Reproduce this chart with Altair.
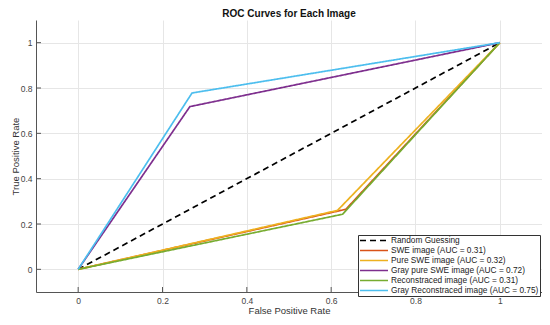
import altair as alt
import pandas as pd

series = [
    "Random Guessing",
    "SWE image (AUC = 0.31)",
    "Pure SWE image (AUC = 0.32)",
    "Gray pure SWE image (AUC = 0.72)",
    "Reconstraced image (AUC = 0.31)",
    "Gray Reconstraced image (AUC = 0.75)",
]
colors = ["#000000", "#D95319", "#EDB120", "#7E2F8E", "#77AC30", "#4DBEEE"]
dashes = [[6, 4], [1, 0], [1, 0], [1, 0], [1, 0], [1, 0]]

fpr = [
    [0, 1],
    [0, 0.635, 1],
    [0, 0.615, 1],
    [0, 0.265, 1],
    [0, 0.627, 1],
    [0, 0.27, 1],
]
tpr = [
    [0, 1],
    [0, 0.265, 1],
    [0, 0.26, 1],
    [0, 0.718, 1],
    [0, 0.243, 1],
    [0, 0.778, 1],
]
ticks = [0, 0.2, 0.4, 0.6, 0.8, 1]

rows = []
for s, xs, ys in zip(series, fpr, tpr):
    for i, (xv, yv) in enumerate(zip(xs, ys)):
        rows.append({"series": s, "x": xv, "y": yv, "i": i})
df = pd.DataFrame(rows)

font = "Liberation Sans"
W, H = 506, 272
xscale = alt.Scale(domain=[-0.1, 1.1], nice=False, zero=False)
yscale = alt.Scale(domain=[-0.1, 1.1], nice=False, zero=False)

lines = alt.Chart(df).mark_line(strokeWidth=1.7, clip=True).encode(
    x=alt.X("x:Q", scale=xscale,
            axis=alt.Axis(title="False Positive Rate", values=ticks, format="~g",
                          grid=True, gridColor="#e6e6e6", ticks=False,
                          domainColor="#555555", labelPadding=4, titlePadding=1)),
    y=alt.Y("y:Q", scale=yscale,
            axis=alt.Axis(title="True Positive Rate", values=ticks, format="~g",
                          grid=True, gridColor="#e6e6e6", ticks=False,
                          domainColor="#555555", labelPadding=4, titlePadding=0)),
    color=alt.Color("series:N", sort=series,
                    scale=alt.Scale(domain=series, range=colors),
                    legend=alt.Legend(title=None)),
    strokeDash=alt.StrokeDash("series:N", sort=series,
                              scale=alt.Scale(domain=series, range=dashes),
                              legend=alt.Legend(title=None)),
    order="i:Q",
)

tick_df = pd.DataFrame({"t": ticks})
yticks = alt.Chart(tick_df).mark_rule(color="#555555", strokeWidth=1).encode(
    y=alt.Y("t:Q", scale=yscale), x=alt.value(0), x2=alt.value(5)
)
xticks = alt.Chart(tick_df).mark_rule(color="#555555", strokeWidth=1).encode(
    x=alt.X("t:Q", scale=xscale), y=alt.value(H), y2=alt.value(H - 5)
)

chart = alt.layer(lines, yticks, xticks).properties(
    width=W, height=H,
    title=alt.Title("ROC Curves for Each Image", fontSize=10, fontWeight="bold",
                    font=font, color="#111111", offset=1),
    autosize=alt.AutoSizeParams(type="none"),
    padding={"left": 28, "top": 12, "right": 0, "bottom": 25},
).configure_view(stroke=None).configure_axis(
    labelFont=font, titleFont=font, labelFontSize=8.5, titleFontSize=9.5,
    labelColor="#444444", titleColor="#333333", titleFontWeight="normal",
).configure_legend(
    orient="none", legendX=322, legendY=215,
    strokeColor="#333333", fillColor="#ffffff", padding=1,
    symbolType="stroke", symbolSize=784, symbolStrokeWidth=1.7,
    labelFont=font, labelFontSize=8.3, labelColor="#222222",
    clipHeight=9, rowPadding=0, labelOffset=2, labelLimit=300, cornerRadius=0,
)

chart.save("out.html", embed_options={"renderer": "svg", "actions": False})
